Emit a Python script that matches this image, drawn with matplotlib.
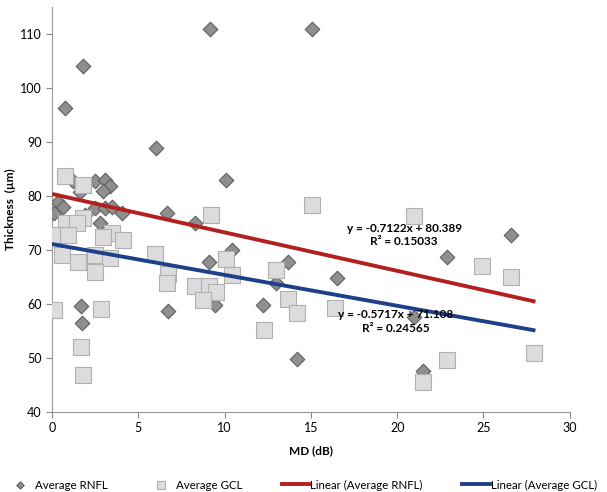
import numpy as np
import matplotlib.pyplot as plt

plt.rcParams['font.family'] = ['Lato', 'DejaVu Sans']

# Average RNFL (diamonds)
rnfl_md = [0.75, 1.8, 9.15, 15.05, 6.0, 10.1, 1.2, 2.5, 3.07, 3.36, 2.95, 1.6,
           0.37, 0.66, 0.12, 2.5, 3.07, 3.5, 4.05, 2.78, 1.9, 6.65, 8.3, 10.4,
           9.1, 9.45, 6.7, 13.7, 13.0, 16.5, 12.2, 14.2, 22.9, 26.6, 21.5, 21.0,
           1.74, 1.7]
rnfl_thk = [96.3, 104, 111, 111, 88.9, 83, 82.8, 82.8, 83, 81.9, 80.9, 80.7,
            78.9, 78, 76.9, 77.8, 77.8, 78, 76.9, 75, 76.5, 76.9, 75, 70,
            67.8, 59.8, 58.7, 67.8, 63.9, 64.8, 59.8, 49.8, 68.7, 72.8, 47.6, 57.6,
            56.5, 59.6]

# Average GCL (squares)
gcl_md = [0.75, 1.8, 1.8, 0.8, 1.45, 3.5, 0.3, 0.9, 2.95, 4.1, 0.58, 1.5,
          2.5, 3.36, 2.5, 0.1, 2.84, 1.7, 1.8, 5.96, 9.2, 6.7, 6.65, 8.3,
          9.1, 9.5, 8.75, 10.1, 10.4, 13.0, 13.7, 14.2, 12.3, 16.4, 15.05, 21.0,
          24.9, 26.6, 22.9, 21.5, 27.9]
gcl_thk = [83.7, 82, 76, 75, 75, 73.2, 72.8, 72.8, 72.4, 71.8, 69, 67.8,
           69, 68.5, 66, 58.9, 59, 52, 46.9, 69.3, 76.5, 65.5, 63.9, 63.3,
           63.3, 62.2, 60.7, 68.3, 65.4, 66.3, 61, 58.3, 55.2, 59.3, 78.3, 76.3,
           67, 65, 49.6, 45.6, 51]

# trendline coefficients (slope, intercept) and labels
rnfl_fit = [-0.7122, 80.389]
gcl_fit = [-0.5717, 71.108]
rnfl_eq = "y = -0.7122x + 80.389\nR² = 0.15033"
gcl_eq = "y = -0.5717x + 71.108\nR² = 0.24565"

fig = plt.figure(figsize=(6.07, 4.92), dpi=100)
ax = fig.add_axes([0.0857, 0.1626, 0.853, 0.823])

ax.scatter(rnfl_md, rnfl_thk, marker='D', s=55, color='#8f8f8f',
           edgecolors='#5e5e5e', linewidths=0.8, label='Average RNFL', zorder=3)
ax.scatter(gcl_md, gcl_thk, marker='s', s=130, color='#dcdcdc',
           edgecolors='#b0b0b0', linewidths=0.8, label='Average GCL', zorder=3)

xr = np.array([min(rnfl_md), max(gcl_md)])
ax.plot(xr, np.polyval(rnfl_fit, xr), color='#b3201f', lw=2.8,
        label='Linear (Average RNFL)', zorder=4)
xg = np.array([min(gcl_md), max(gcl_md)])
ax.plot(xg, np.polyval(gcl_fit, xg), color='#1e3f8a', lw=2.8,
        label='Linear (Average GCL)', zorder=4)

ax.text(20.4, 72.8, rnfl_eq, ha='center', va='center', fontsize=8.5,
        fontweight='bold', linespacing=1.3, zorder=5)
ax.text(19.9, 56.7, gcl_eq, ha='center', va='center', fontsize=8.5,
        fontweight='bold', linespacing=1.3, zorder=5)

ax.set_xlim(0, 30)
ax.set_ylim(40, 115)
ax.set_xticks(np.arange(0, 31, 5))
ax.set_yticks(np.arange(40, 111, 10))
ax.set_xlabel('MD (dB)', fontsize=8.5, fontweight='bold', labelpad=8)
ax.set_ylabel('Thickness  (µm)', fontsize=8.5, fontweight='bold', labelpad=3)
ax.tick_params(labelsize=9, color='#888888', length=4)
for s in ['top', 'right']:
    ax.spines[s].set_visible(False)
for s in ['left', 'bottom']:
    ax.spines[s].set_color('#999999')

fig.legend(loc='lower left', bbox_to_anchor=(0.005, -0.004), ncol=4,
           frameon=False, fontsize=8.3, handlelength=2.4, handletextpad=0.1,
           columnspacing=3.4, markerscale=0.5, borderpad=0.3,
           borderaxespad=0.0)

fig.savefig('out.png', dpi=100)
